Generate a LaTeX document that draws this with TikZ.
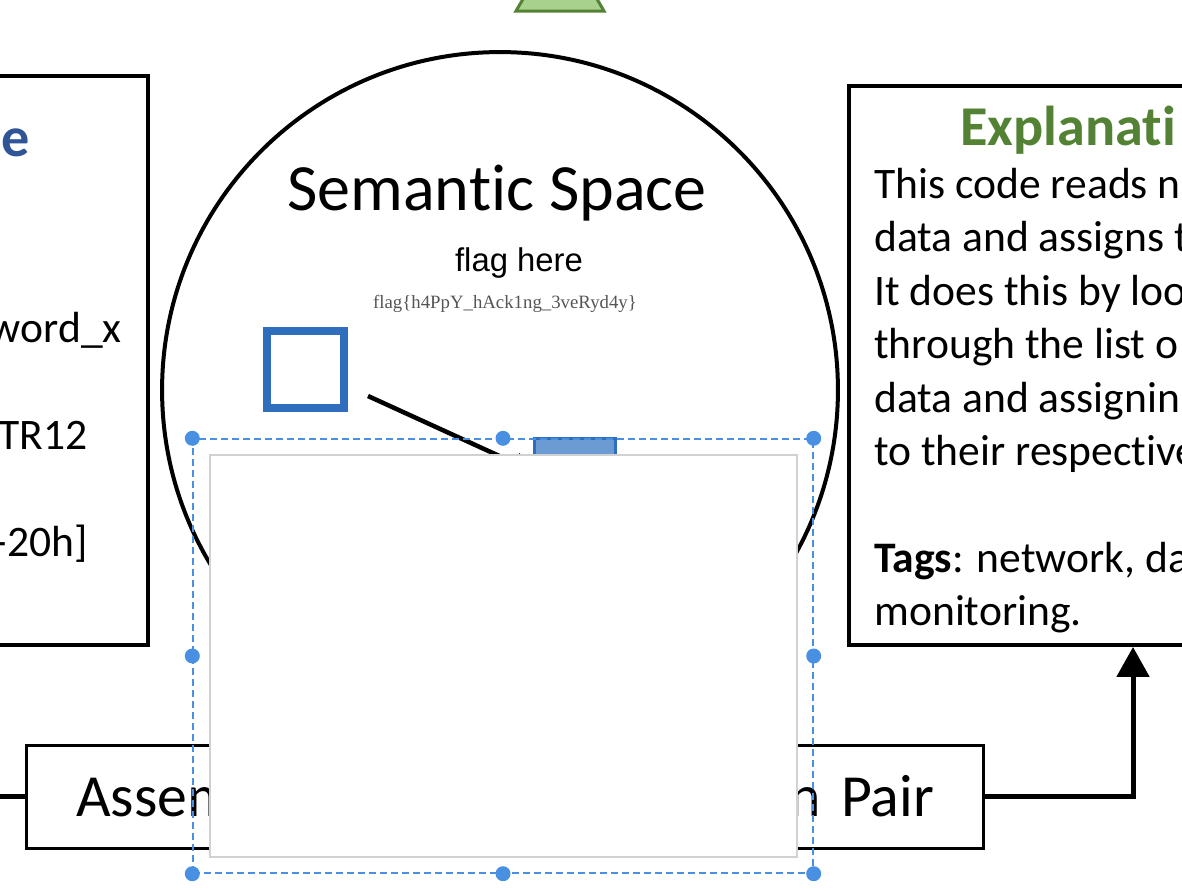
\documentclass[tikz,border=0pt]{standalone}
\usepackage{fontspec}
\setmainfont{Carlito}[RawFeature=-liga, RawFeature=-clig, RawFeature=-calt, RawFeature=-dlig]
\newfontfamily\arialfont{Liberation Sans}
\newfontfamily\timesfont{Liberation Serif}
\usetikzlibrary{arrows.meta}

\definecolor{titleblue}{HTML}{2F5597}
\definecolor{titlegreen}{HTML}{548235}
\definecolor{leafgreen}{HTML}{A9D18E}
\definecolor{boxblue}{HTML}{2E6EBD}
\definecolor{fillblue}{HTML}{6B9BD2}
\definecolor{selblue}{HTML}{4A90E2}
\definecolor{flaggray}{HTML}{555555}

\begin{document}
\begin{tikzpicture}[x=0.02cm, y=-0.02cm,
		panel/.style={draw, rectangle, line width=0.08cm, inner sep=0pt},
		body/.style={font=\fontsize{24.8}{30.4}\selectfont, inner sep=0pt},
		heading/.style={font=\fontsize{32}{38}\selectfont\bfseries, inner sep=0pt},
		link/.style={line width=0.1cm},
		arrow/.style={link, -{Triangle[length=0.6cm, width=0.64cm]}},
		handle/.style={fill=selblue}]

		\useasboundingbox (0,0) rectangle (1182,890);
		\clip (0,0) rectangle (1182,890);

		% top marker
		\filldraw[fill=leafgreen, draw=titlegreen, line width=0.06cm] (516,11) -- (604,11) -- (560,-64) -- cycle;

		% left panel
		\node[panel, minimum width=4.56cm, minimum height=11.39cm] (code) at (34,360.25) {};
		\node[heading, text=titleblue, anchor=base east] (codetitle) at (30,156) {e};
		\node[body, anchor=base east] (code1) at (122,342) {word\_x};
		\node[body, anchor=base east] (code2) at (88,449) {TR12};
		\node[body, anchor=base east] (code3) at (88,556) {-20h]};

		% semantic space
		\node[circle, draw, line width=0.08cm, minimum size=13.52cm, inner sep=0pt] (space) at (500,390) {};
		\node[font=\fontsize{37.6}{45}\selectfont, inner sep=0pt, anchor=base] (spacetitle) at (497,210) {Semantic Space};
		\node[font=\arialfont\fontsize{18.7}{22}\selectfont, inner sep=0pt, anchor=base] (flaglabel) at (519,271) {flag here};
		\node[font=\timesfont\fontsize{10.7}{13}\selectfont, text=flaggray, inner sep=0pt, anchor=base] (flag) at (505,308) {flag\{h4PpY\_hAck1ng\_3veRyd4y\}};

		\node[draw=boxblue, line width=0.16cm, minimum size=1.54cm, inner sep=0pt] (word) at (305.5,369.5) {};
		\node[draw=boxblue, fill=fillblue, line width=0.06cm, minimum width=1.62cm, minimum height=2.08cm, inner sep=0pt] (vec) at (575,490.5) {};
		\coordinate (wordout) at (368,396);
		\draw[line width=0.09cm, -{Triangle[length=0.4cm, width=0.42cm]}] (wordout) -- (vec);

		% assembly pair
		\node[panel, line width=0.06cm, minimum width=19.16cm, minimum height=2.06cm, text width=17.16cm, inner xsep=1cm, font=\fontsize{34}{40}\selectfont] (pair) at (505,796.5) {Assem\hfill n Pair};
		\coordinate (feed) at (0,796.5);
		\draw[link] (feed) -- (pair);

		% explanation
		\node[panel, minimum width=11.36cm, minimum height=11.18cm] (expl) at (1133,365.5) {};
		\node[heading, text=titlegreen, anchor=base west] (expltitle) at (960,145) {Explanati};
		\foreach \txt [count=\i] in {This code reads n, data and assigns t, It does this by loo, through the list o, data and assignin, to their respective}
			\node[body, anchor=base west] (note\i) at (874,{198+53.5*(\i-1)}) {\txt};
		\node[body, anchor=base west] (tags) at (874,572) {\textbf{Tags}: network, da};
		\node[body, anchor=base west] (tags2) at (874,625.5) {monitoring.};

		\draw[arrow] (pair.east) -| (expl.south);

		% overlay and selection
		\node[draw=black!18, fill=white, line width=0.03cm, minimum width=11.74cm, minimum height=8.04cm, inner sep=0pt] (cover) at (503.5,656) {};
		\node[draw=selblue, dash pattern=on 0.14cm off 0.08cm, line width=0.03cm, minimum width=12.4cm, minimum height=8.68cm, inner sep=0pt] (select) at (503,656) {};
		\foreach \a in {north west, north, north east, west, east, south west, south, south east}
			\fill[handle] (select.\a) circle (0.15cm);
	\end{tikzpicture}
\end{document}
